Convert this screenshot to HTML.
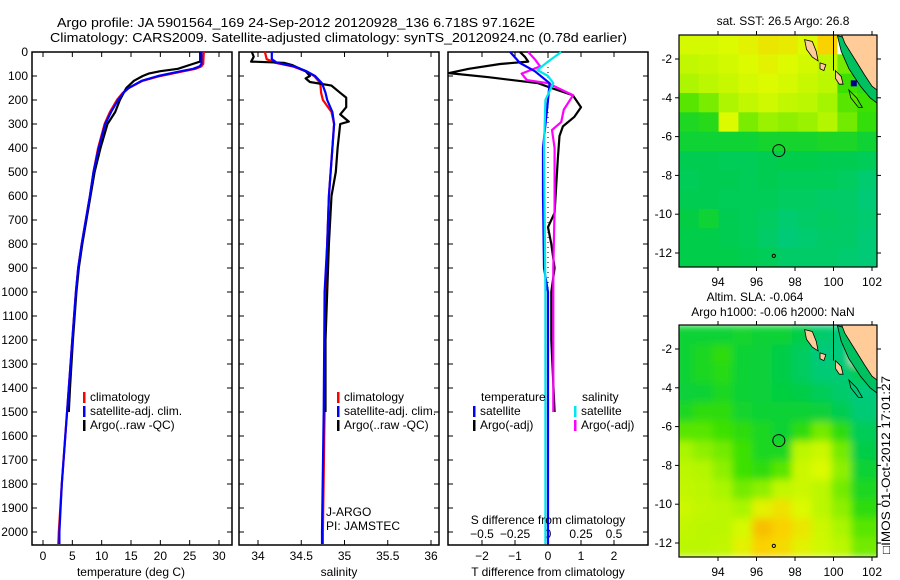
<!DOCTYPE html>
<html><head><meta charset="utf-8"><style>
html,body{margin:0;padding:0;background:#fff;}
svg{display:block;font-family:"Liberation Sans",sans-serif;}
text{font-size:12px;fill:#000;}
</style></head><body>
<svg id="fig" width="900" height="580" viewBox="0 0 900 580" xmlns="http://www.w3.org/2000/svg">
<defs>
<filter id="blur1" x="0" y="0" width="1" height="1"><feGaussianBlur stdDeviation="4"/></filter>
<clipPath id="clipM1"><rect x="679" y="35" width="198" height="232"/></clipPath>
<clipPath id="clipM2"><rect x="679" y="325" width="198" height="232"/></clipPath>
</defs>
<text x="57" y="27" textLength="478" lengthAdjust="spacingAndGlyphs" style="font-size:13px">Argo profile: JA 5901564_169 24-Sep-2012 20120928_136 6.718S 97.162E</text>
<text x="50" y="42" textLength="577" lengthAdjust="spacingAndGlyphs" style="font-size:13px">Climatology: CARS2009. Satellite-adjusted climatology: synTS_20120924.nc (0.78d earlier)</text>
<g id="layer"></g>
<text x="890" y="465" transform="rotate(-90 890 465)" text-anchor="middle" textLength="178" lengthAdjust="spacingAndGlyphs">□IMOS 01-Oct-2012 17:01:27</text>
</svg>
<script>
// ---- data ----
const tempClimDepth = [0,50,60,70,80,100,120,150,170,200,250,300,400,500,600,700,800,900,1000,1200,1400,1600,1800,2000,2050];
const tempClim =      [27.4,27.3,27,26,24,20,17,14.6,13.6,12.6,11.4,10.5,9.4,8.6,8.0,7.3,6.6,6.0,5.6,5.0,4.4,3.8,3.2,2.7,2.6];
const tempSat =       [27.0,27.0,26.7,25.6,23.5,19.6,16.8,14.6,13.7,12.8,11.6,10.6,9.5,8.6,8.0,7.3,6.6,6.0,5.6,5.0,4.4,3.8,3.2,2.8,2.8];
const tempArgoDepth = [0,40,50,70,80,90,100,120,150,200,250,300,400,500,600,700,800,900,1000,1200,1400,1500];
const tempArgo =      [26.8,26.8,25.5,23,20,18,17,15.5,14.2,13.1,12.3,11,9.8,8.8,8.1,7.4,6.7,6.1,5.7,5.1,4.6,4.4];
const salClimDepth = [0,30,45,60,80,100,130,170,200,250,300,400,600,800,1000,1500,2000,2050];
const salClim =      [34.08,34.1,34.2,34.4,34.55,34.65,34.72,34.73,34.75,34.85,34.88,34.86,34.82,34.8,34.78,34.77,34.75,34.75];
const salSat =       [34.16,34.16,34.22,34.42,34.56,34.66,34.74,34.78,34.8,34.86,34.88,34.86,34.82,34.8,34.77,34.76,34.74,34.74];
const salArgoDepth = [0,20,40,45,55,80,100,110,125,140,170,190,230,260,290,300,400,500,600,800,1000,1200,1500];
const salArgo =      [33.93,33.95,33.92,34.3,34.4,34.55,34.6,34.55,34.6,34.85,34.95,35.02,35.02,34.95,35.05,34.95,34.92,34.9,34.85,34.82,34.8,34.78,34.78];
const diffTArgoDepth = [0,20,40,50,70,88,105,130,150,180,230,270,310,350,440,550,670,730,800,900,1000,1200,1500];
const diffTArgo =      [-0.85,-0.7,-0.6,-1.45,-2.4,-3.0,-1.8,-0.3,0.1,0.75,1.0,0.8,0.45,0.35,0.3,0.25,0.2,0.0,0.1,0.2,0.1,0.1,0.2];
const diffTSatDepth = [0,46,80,130,200,400,600,900,1000,1500,2050];
const diffTSat =      [-1.15,-0.85,-0.4,0.05,0,-0.15,-0.15,-0.12,0,0,0];
const diffSArgoDepth = [0,30,60,90,117,130,180,240,292,325,400,650,900,1200,1500];
const diffSArgo =      [-0.15,-0.1,-0.06,-0.2,-0.16,0,0.19,0.12,0.1,0.03,0.05,0.05,0.04,0.04,0.04];
const diffSSatDepth = [0,40,75,100,130,200,400,1000,1500,2050];
const diffSSat =      [0.1,0.0,-0.08,0.0,0.04,-0.02,-0.03,-0.02,-0.02,-0.02];
const depthTicks = [0,100,200,300,400,500,600,700,800,900,1000,1100,1200,1300,1400,1500,1600,1700,1800,1900,2000];
const tempTicks = [0,5,10,15,20,25,30];
const salTicks = [34,34.5,35,35.5,36];
const tdiffTicks = [-2,-1,0,1,2];
const sdiffTicks = [-0.5,-0.25,0,0.25,0.5];
const lonTicks = [94,96,98,100,102];
const latTicks = [-2,-4,-6,-8,-10,-12];
// map grids (colour index 0 teal .. 1 orange), rows lat -0.8..-12.7, cols lon 92.2..102.3; -1 = blank
const sstGrid = [
[.78,.78,.8,.82,.85,.84,.8,.9,-1,-1],
[.72,.74,.77,.8,.82,.8,.77,.72,.55,-1],
[.66,.7,.74,.78,.8,.78,.74,.7,.45,.4],
[.5,.56,.66,.72,.76,.72,.7,.64,.5,.45],
[.35,.38,.8,.56,.62,.6,.62,.68,.55,.42],
[.3,.3,.3,.3,.32,.32,.32,.34,.34,.3],
[.22,.22,.2,.2,.22,.24,.24,.22,.22,.2],
[.2,.22,.22,.2,.22,.2,.2,.2,.18,.14],
[.22,.22,.2,.2,.2,.18,.18,.16,.16,.12],
[.26,.3,.22,.2,.18,.14,.16,.18,.16,.14],
[.24,.24,.22,.2,.16,.12,.14,.16,.16,.12],
[.24,.24,.24,.22,.2,.16,.16,.16,.14,.12]];
const slaGrid = [
[.3,.3,.3,.32,.3,.3,.25,.15,.1,-1],
[.3,.35,.4,.3,.28,.25,.18,.1,.1,-1],
[.3,.35,.38,.3,.28,.25,.18,.12,.12,.2],
[.28,.3,.35,.3,.28,.27,.25,.2,.15,.1],
[.35,.4,.4,.32,.3,.3,.3,.28,.22,.12],
[.5,.5,.45,.4,.35,.3,.4,.55,.4,.2],
[.65,.6,.55,.45,.35,.35,.7,.75,.55,.25],
[.7,.68,.6,.45,.4,.5,.75,.8,.6,.3],
[.72,.7,.65,.55,.6,.72,.75,.7,.55,.35],
[.75,.72,.7,.65,.82,.86,.8,.7,.6,.4],
[.72,.7,.7,.78,.93,.9,.85,.75,.65,.5],
[.7,.7,.72,.82,.9,.88,.82,.76,.7,.55]];

const NS="http://www.w3.org/2000/svg";
const layer=document.getElementById('layer');
function mk(tag,attrs,parent){const e=document.createElementNS(NS,tag);for(const k in attrs)e.setAttribute(k,attrs[k]);(parent||layer).appendChild(e);return e;}
function txt(x,y,s,anchor,parent){const t=mk('text',{x:x,y:y,'text-anchor':anchor||'start'},parent);t.textContent=s;return t;}

const yD=d=>52+d*0.24;
const xT=t=>43+t*5.867;
const xS=s=>258+(s-34)*86.5;
const xTd=v=>548+v*33;
const xSd=v=>548+v*132;

function panel(x0,name){
  const r=mk('rect',{x:x0,y:52,width:200,height:493,fill:'none',stroke:'#000','stroke-width':1.5});
  
  
  depthTicks.forEach(d=>{mk('line',{x1:x0,x2:x0+5,y1:yD(d),y2:yD(d),stroke:'#000'});mk('line',{x1:x0+200,x2:x0+195,y1:yD(d),y2:yD(d),stroke:'#000'});});
}
function line(xs,ds,fx,color,name,w){
  const p=xs.map((v,i)=>fx(v).toFixed(1)+','+yD(ds[i]).toFixed(1)).join(' ');
  const e=mk('polyline',{points:p,fill:'none',stroke:color,'stroke-width':w||2.2,'stroke-linejoin':'round'});
  
  
}
// panel 1
panel(32,'temperature-panel');
depthTicks.forEach(d=>{const t=txt(28,yD(d)+4,String(d),'end');});
tempTicks.forEach(v=>{mk('line',{x1:xT(v),x2:xT(v),y1:545,y2:540,stroke:'#000'});mk('line',{x1:xT(v),x2:xT(v),y1:52,y2:57,stroke:'#000'});const t=txt(xT(v),560,String(v),'middle');});
line(tempClim,tempClimDepth,xT,'#ff0000','temp-climatology-line');
line(tempArgo,tempArgoDepth,xT,'#000000','temp-argo-line');
line(tempSat,tempClimDepth,xT,'#0000ff','temp-satellite-line');
{const t=txt(131,576,'temperature (deg C)','middle');}
function legend(x,y,items,name){
  items.forEach((it,i)=>{mk('rect',{x:x,y:y+i*14-9,width:2.5,height:11,fill:it[1]});const t=txt(x+7,y+i*14,it[0]);});
}
legend(83,401,[['climatology','#f00'],['satellite-adj. clim.','#00f'],['Argo(..raw -QC)','#000']],'temp-legend');
// panel 2
panel(239,'salinity-panel');
salTicks.forEach(v=>{mk('line',{x1:xS(v),x2:xS(v),y1:545,y2:540,stroke:'#000'});mk('line',{x1:xS(v),x2:xS(v),y1:52,y2:57,stroke:'#000'});const t=txt(xS(v),560,String(v),'middle');});
line(salClim,salClimDepth,xS,'#ff0000','sal-climatology-line');
line(salArgo,salArgoDepth,xS,'#000000','sal-argo-line');
line(salSat,salClimDepth,xS,'#0000ff','sal-satellite-line');
{const t=txt(339,576,'salinity','middle');}
legend(337,401,[['climatology','#f00'],['satellite-adj. clim.','#00f'],['Argo(..raw -QC)','#000']],'sal-legend');
txt(326,516,'J-ARGO');txt(326,530,'PI: JAMSTEC');
// panel 3
panel(448,'difference-panel');
tdiffTicks.forEach(v=>{mk('line',{x1:xTd(v),x2:xTd(v),y1:545,y2:540,stroke:'#000'});mk('line',{x1:xTd(v),x2:xTd(v),y1:52,y2:57,stroke:'#000'});const t=txt(xTd(v),560,v<0?'\u2212'+(-v):String(v),'middle');});
sdiffTicks.forEach(v=>{mk('line',{x1:xSd(v),x2:xSd(v),y1:545,y2:540,stroke:'#000'});const t=txt(xSd(v),538,v<0?'\u2212'+(-v):String(v),'middle');});
mk('line',{x1:548,x2:548,y1:yD(0),y2:yD(2050),stroke:'#000','stroke-dasharray':'1,4'});
line(diffTArgo,diffTArgoDepth,xTd,'#000000','tdiff-argo-line');
line(diffSArgo,diffSArgoDepth,xSd,'#ff00ff','sdiff-argo-line');
line(diffTSat,diffTSatDepth,xTd,'#0000ff','tdiff-satellite-line');
line(diffSSat,diffSSatDepth,xSd,'#00e5ee','sdiff-satellite-line');
txt(481,401,'temperature');txt(582,401,'salinity');
legend(473,415,[['satellite','#00f'],['Argo(-adj)','#000']],'tdiff-legend');
legend(574,415,[['satellite','#00e5ee'],['Argo(-adj)','#ff00ff']],'sdiff-legend');
{const t=txt(548,524,'S difference from climatology','middle');}
{const t=txt(548,576,'T difference from climatology','middle');}

// maps
function cmap(v){
  const stops=[[0,[0,200,160]],[.25,[0,205,70]],[.45,[60,225,0]],[.65,[170,245,0]],[.8,[220,250,0]],[.9,[250,210,0]],[1,[240,150,0]]];
  for(let i=1;i<stops.length;i++){if(v<=stops[i][0]){const a=stops[i-1],b=stops[i],f=(v-a[0])/(b[0]-a[0]);return 'rgb('+a[1].map((c,k)=>Math.round(c+(b[1][k]-c)*f)).join(',')+')';}}
  return 'rgb(240,150,0)';
}
function map(y0,grid,name,yMinusTwo,blue){
  const g=mk('g',{'clip-path':'url(#clip'+name+')'});
  
  
  const lonX=l=>718+(l-94)*19.25, latY=a=>yMinusTwo+(-2-a)*19.4;
  const gg=mk('g',{filter:name==='M2'?'url(#blur1)':''},g);
  const cw=198/10,ch=232/12;
  grid.forEach((row,r)=>row.forEach((v,c)=>{mk('rect',{x:679+c*cw-(name==='M2'?6:0),y:y0+r*ch,width:cw+(name==='M2'?12:0.6),height:ch+0.6,fill:v<0?'#fff':cmap(v)},gg);}));
  if(blue) mk('rect',{x:lonX(100.9),y:latY(-3.1),width:6,height:6,fill:'#000090'},g);
  const P=pts=>pts.map(p=>lonX(p[0]).toFixed(1)+','+latY(p[1]).toFixed(1)).join(' ');
  mk('polygon',{points:P([[101,-1.0],[101.3,-1.6],[101.8,-2.6],[102.3,-3.3],[102.3,-4.3],[101.9,-4.0],[101.4,-3.4],[100.8,-2.5],[100.4,-1.6],[100.2,-0.8]]),fill:'#00c060',stroke:'#000','stroke-width':0.8},g);
  mk('polygon',{points:P([[100.4,-0.7],[100.6,-1.2],[101.1,-2.0],[101.6,-2.8],[102.0,-3.4],[102.4,-3.7],[102.4,-0.7]]),fill:'#ffcc99',stroke:'#000','stroke-width':0.8},g);
  mk('polygon',{points:P([[98.5,-1.0],[98.9,-1.1],[99.1,-1.6],[99.2,-2.1],[98.9,-1.9],[98.6,-1.5]]),fill:'#ffcc99',stroke:'#000','stroke-width':0.8},g);
  mk('polygon',{points:P([[99.3,-2.2],[99.6,-2.3],[99.5,-2.6],[99.3,-2.5]]),fill:'#ffcc99',stroke:'#000','stroke-width':0.8},g);
  mk('polygon',{points:P([[100.1,-2.6],[100.4,-2.9],[100.5,-3.3],[100.3,-3.3],[100.1,-3.0]]),fill:'#ffcc99',stroke:'#000','stroke-width':0.8},g);
  mk('polygon',{points:P([[100.8,-3.6],[101.2,-4.0],[101.5,-4.5],[101.3,-4.5],[100.9,-4.0]]),fill:'none',stroke:'#000','stroke-width':0.8},g);
  mk('line',{x1:lonX(100),x2:lonX(100),y1:y0,y2:latY(-2.6),stroke:'#000'},g);
  mk('circle',{cx:lonX(97.16),cy:latY(-6.72),r:6,fill:'none',stroke:'#000'},g);
  mk('circle',{cx:lonX(96.9),cy:latY(-12.15),r:1.6,fill:'none',stroke:'#000'},g);
  mk('rect',{x:679,y:y0,width:198,height:232,fill:'none',stroke:'#000','stroke-width':1.2});
  lonTicks.forEach(l=>{mk('line',{x1:lonX(l),x2:lonX(l),y1:y0,y2:y0-4,stroke:'#000'});mk('line',{x1:lonX(l),x2:lonX(l),y1:y0+232,y2:y0+236,stroke:'#000'});const t=txt(lonX(l),y0+251,String(l),'middle');});
  latTicks.forEach(a=>{mk('line',{x1:679,x2:675,y1:latY(a),y2:latY(a),stroke:'#000'});mk('line',{x1:877,x2:881,y1:latY(a),y2:latY(a),stroke:'#000'});const t=txt(672,latY(a)+4,String(a),'end');});
}
map(35,sstGrid,'M1',59,true);
map(325,slaGrid,'M2',349,false);
{const t=txt(783,25,'sat. SST: 26.5 Argo: 26.8','middle');}
{const t=txt(755,301,'Altim. SLA: -0.064','middle');}
{const t=txt(773,316,'Argo h1000: -0.06 h2000: NaN','middle');}
</script>
</body></html>
